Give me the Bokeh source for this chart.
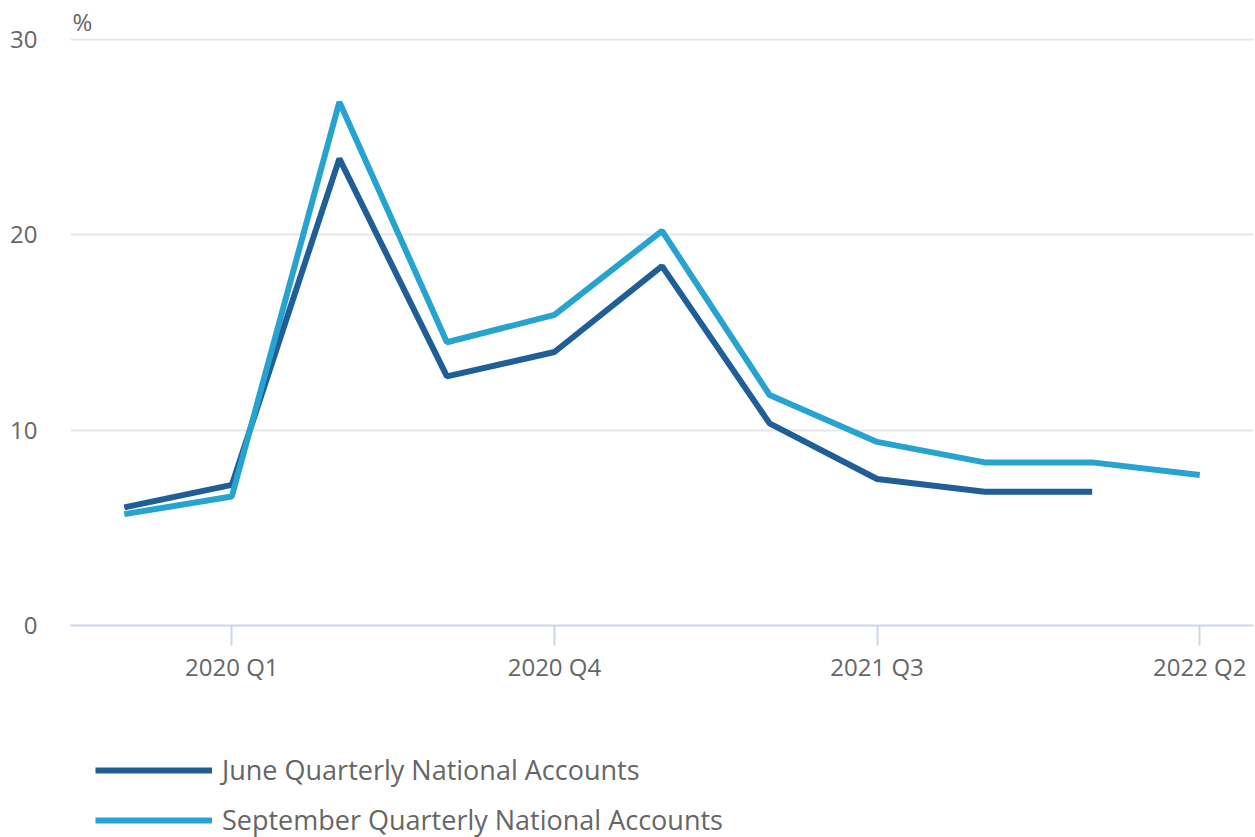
from bokeh.plotting import figure
from bokeh.layouts import column
from bokeh.models import FixedTicker, Legend, LegendItem, Title, Range1d
from bokeh.embed import file_html
from bokeh.resources import INLINE

quarters = ["2019 Q4", "2020 Q1", "2020 Q2", "2020 Q3", "2020 Q4",
            "2021 Q1", "2021 Q2", "2021 Q3", "2021 Q4", "2022 Q1", "2022 Q2"]
june = [6.05, 7.2, 23.9, 12.75, 14.0, 18.4, 10.35, 7.5, 6.85, 6.85]
september = [5.7, 6.6, 26.8, 14.5, 15.9, 20.2, 11.8, 9.4, 8.35, 8.35, 7.7]
tick_quarters = ["2020 Q1", "2020 Q4", "2021 Q3", "2022 Q2"]
y_ticks = [0, 10, 20, 30]
series_names = ["June Quarterly National Accounts", "September Quarterly National Accounts"]
series_colors = ["#1f5e96", "#27a3cf"]

FONT = "Open Sans"
GREY = "#666666"

p = figure(frame_width=1183, frame_height=587, output_backend="svg", toolbar_location=None,
           x_range=Range1d(-0.5, len(quarters) - 0.5), y_range=Range1d(0, 30.05),
           min_border_left=70, min_border_right=2, min_border_top=38,
           min_border_bottom=60)
p.outline_line_color = None
p.background_fill_color = "white"
p.border_fill_color = "white"

x_june = list(range(len(june)))
x_sep = list(range(len(september)))
p.line(x_june, june, line_color=series_colors[0], line_width=6)
p.line(x_sep, september, line_color=series_colors[1], line_width=6)

# x axis
xa = p.xaxis[0]
xa.ticker = FixedTicker(ticks=[quarters.index(q) for q in tick_quarters])
xa.major_label_overrides = {quarters.index(q): q for q in tick_quarters}
xa.major_tick_in = 0
xa.major_tick_out = 20
xa.minor_tick_line_color = None
xa.axis_line_color = "#ccd6eb"
xa.axis_line_width = 2
xa.major_tick_line_color = "#ccd6eb"
xa.major_tick_line_width = 2
xa.major_label_text_font = FONT
xa.major_label_text_font_size = "24px"
xa.major_label_text_color = GREY
xa.major_label_standoff = 4

# y axis
ya = p.yaxis[0]
ya.ticker = FixedTicker(ticks=y_ticks)
ya.major_tick_in = 0
ya.major_tick_out = 0
ya.minor_tick_line_color = None
ya.axis_line_color = None
ya.major_label_text_font = FONT
ya.major_label_text_font_size = "24px"
ya.major_label_text_color = GREY
ya.major_label_standoff = 33

p.xgrid.grid_line_color = None
p.ygrid.grid_line_color = "#e6e6e6"
p.ygrid.grid_line_width = 2

p.add_layout(Title(text="%", align="left", offset=2, standoff=2,
                   text_font=FONT, text_font_size="24px", text_color=GREY,
                   text_font_style="normal"), "above")

# legend strip below the chart (series drawn outside its visible range; only legend shows)
lg = figure(width=1255, height=152, output_backend="svg", toolbar_location=None,
            x_range=Range1d(100, 101), y_range=Range1d(100, 101),
            min_border_left=0, min_border_right=0, min_border_top=0, min_border_bottom=0)
lg.outline_line_color = None
lg.axis.visible = False
lg.grid.visible = False
items = []
for name, col, xs, ys in zip(series_names, series_colors, [x_june, x_sep], [june, september]):
    r = lg.line(x=xs, y=ys, line_color=col, line_width=6)
    items.append(LegendItem(label=name, renderers=[r]))

legend = Legend(items=items, location=(25, -1), orientation="vertical",
                label_text_font=FONT, label_text_font_size="27px", label_text_color=GREY,
                glyph_width=117, glyph_height=30, label_height=30, label_standoff=10,
                spacing=13, padding=0, margin=0, border_line_color=None,
                background_fill_alpha=0)
lg.add_layout(legend, "center")

layout = column(p, lg, spacing=0)
open("out.html", "w").write(file_html(layout, INLINE))
